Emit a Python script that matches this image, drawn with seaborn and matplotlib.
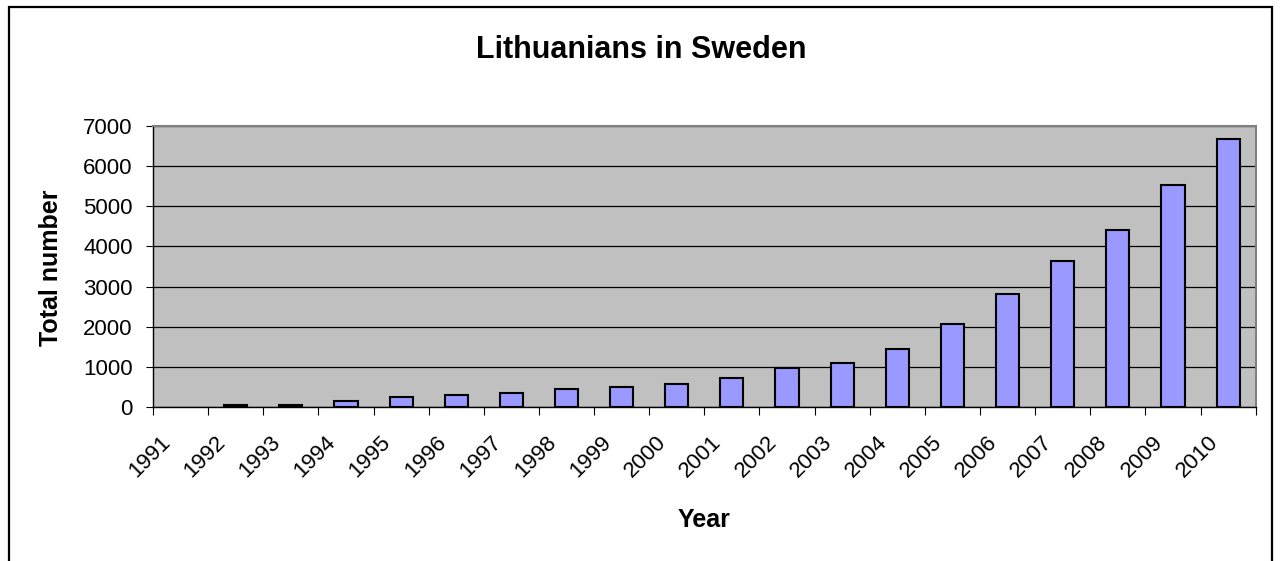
import matplotlib
matplotlib.use("Agg")
import matplotlib.pyplot as plt
import matplotlib.transforms as mtransforms
from matplotlib.patches import Rectangle
import seaborn as sns
import pandas as pd

years = [str(y) for y in range(1991, 2011)]
counts = [0, 60, 55, 150, 245, 290, 350, 440, 490, 565,
          725, 960, 1100, 1450, 2075, 2810, 3625, 4400, 5520, 6670]
y_ticks = [0, 1000, 2000, 3000, 4000, 5000, 6000, 7000]

title = "Lithuanians in Sweden"
x_label = "Year"
y_label = "Total number"

sns.set_style("white")
plt.rcParams['font.family'] = ['Liberation Sans', 'DejaVu Sans']
plt.rcParams['text.color'] = 'black'
plt.rcParams['xtick.color'] = 'black'
plt.rcParams['ytick.color'] = 'black'
plt.rcParams['xtick.labelcolor'] = 'black'
plt.rcParams['ytick.labelcolor'] = 'black'

df = pd.DataFrame({"year": years, "count": counts})

W, H = 1282, 561
fig = plt.figure(figsize=(W / 100, H / 100), dpi=100)
left, right, top, bottom = 153, 1255.7, 126, 407
ax = fig.add_axes([left / W, 1 - bottom / H, (right - left) / W, (bottom - top) / H])
ax.set_facecolor("#C0C0C0")

sns.barplot(data=df, x="year", y="count", color="#9999FF", saturation=1,
            edgecolor="black", linewidth=1.5, width=0.42, ax=ax, zorder=3)
for p in ax.patches:
    if p.get_height() == 0:
        p.set_linewidth(0)

ax.set_xlim(-0.5, len(years) - 0.5)
ax.set_ylim(0, 7000)
ax.set_yticks(y_ticks)
ax.set_yticklabels([str(v) for v in y_ticks])
ax.yaxis.grid(True, color="black", linewidth=0.9, zorder=1)
ax.set_axisbelow(True)
ax.set_xlabel("")
ax.set_ylabel("")

# x ticks at category boundaries
ax.set_xticks([i - 0.5 for i in range(len(years) + 1)], minor=True)
ax.tick_params(axis="x", which="minor", length=5.8, width=0.8, color="black", direction="out", bottom=True)
ax.tick_params(axis="x", which="major", length=0, pad=18, labelsize=16, labelcolor="black")
ax.tick_params(axis="y", which="major", length=5, width=0.8, color="black", direction="out",
               left=True, pad=9.5, labelsize=16, labelcolor="black")
for lab in ax.get_xticklabels():
    lab.set_rotation(45)
    lab.set_ha("right")
    lab.set_va("top")
    lab.set_transform(lab.get_transform() + mtransforms.ScaledTranslation(-6 / 100, 0, fig.dpi_scale_trans))

for s in ["left", "bottom"]:
    ax.spines[s].set_color("black")
    ax.spines[s].set_linewidth(1.0)
for s in ["top", "right"]:
    ax.spines[s].set_color("#808080")
    ax.spines[s].set_linewidth(1.5)

fig.text(0.5, 1 - 58.3 / H, title, ha="center", va="baseline", fontsize=22, fontweight="bold",
         color="black")
fig.text((left + right) / 2 / W, 1 - 527 / H, x_label, ha="center", va="baseline",
         fontsize=18, fontweight="bold", color="black")
fig.text(51 / W, 1 - 268 / H, y_label, ha="center", va="center", rotation=90,
         fontsize=18, fontweight="bold", color="black")

border = Rectangle((9 / W, -0.1), (1272 - 9) / W, 1 - 7 / H + 0.1, transform=fig.transFigure,
                   fill=False, edgecolor="black", linewidth=1.6, clip_on=False)
fig.patches.append(border)

fig.savefig("out.png", dpi=100)
